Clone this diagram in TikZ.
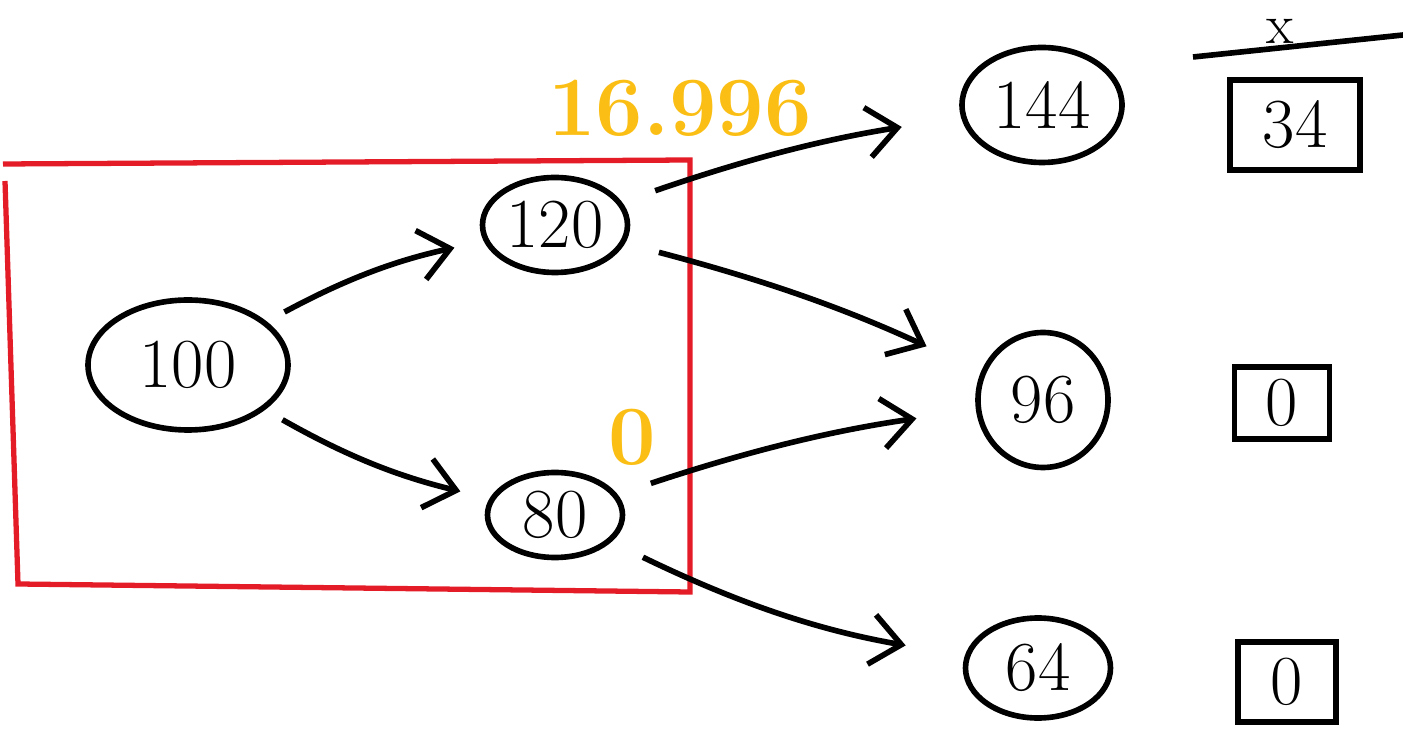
\documentclass[tikz,border=0pt]{standalone}
\usepackage{amsmath}
\usepackage{tikz}
\usetikzlibrary{arrows.meta,shapes.geometric}

\definecolor{hlred}{RGB}{228,28,40}
\definecolor{hlyellow}{RGB}{250,190,20}

\tikzset{
  price/.style={draw, ellipse, line width=1.6pt, inner sep=0pt, font=\fontsize{20}{24}\selectfont},
  payoff/.style={draw, rectangle, line width=1.6pt, inner sep=0pt, font=\fontsize{20}{24}\selectfont},
  branch/.style={line width=1.6pt, -{Straight Barb[length=3mm,width=5mm]}, shorten <=2mm, shorten >=3mm},
  longbranch/.style={branch, shorten <=3.5mm, shorten >=6mm},
}

\begin{document}
\begin{tikzpicture}
          \useasboundingbox (0,0) rectangle (14.03,7.36);
          \draw[hlred, line width=1.5pt] (0.05,5.55) -- (0.18,1.52) -- (6.9,1.44) -- (6.9,5.76) -- (0.03,5.72);
          \node[price, minimum width=2cm, minimum height=1.3cm] (n100) at (1.88,3.71) {100};
          \node[price, minimum width=1.45cm, minimum height=0.95cm] (n120) at (5.55,5.11) {120};
          \node[price, minimum width=1.35cm, minimum height=0.85cm] (n80) at (5.55,2.21) {80};
          \node[price, minimum width=1.6cm, minimum height=1.15cm] (n144) at (10.42,6.31) {144};
          \node[price, minimum width=1.3cm, minimum height=1.35cm] (n96) at (10.43,3.36) {96};
          \node[price, minimum width=1.45cm, minimum height=1.0cm] (n64) at (10.38,0.68) {64};
          \node[payoff, minimum width=1.3cm, minimum height=0.9cm] (p34) at (12.95,6.11) {34};
          \node[payoff, minimum width=0.95cm, minimum height=0.72cm] (p96) at (12.82,3.33) {0};
          \node[payoff, minimum width=0.98cm, minimum height=0.8cm] (p64) at (12.87,0.54) {0};
          \node[hlyellow, font=\fontsize{24}{28}\selectfont\bfseries] (v120) at (6.8,6.28) {16.996};
          \node[hlyellow, font=\fontsize{24}{28}\selectfont\bfseries] (v80) at (6.32,2.99) {0};
          \node[inner sep=0pt, anchor=base, font=\fontsize{16}{20}\selectfont] (xlab) at (12.8,6.92) {x};
          \draw[line width=1.6pt] (11.93,6.79) -- (14.03,7.01);
          \draw[branch] (n100) to[bend left=8] (n120);
          \draw[branch] (n100) to[bend right=8] (n80);
          \draw[longbranch] (n120) to[bend left=5] (n144);
          \draw[longbranch] (n120) to[bend left=5] (n96);
          \draw[longbranch] (n80) to[bend left=5] (n96);
          \draw[longbranch] (n80) to[bend right=8] (n64);
      \end{tikzpicture}
\end{document}
